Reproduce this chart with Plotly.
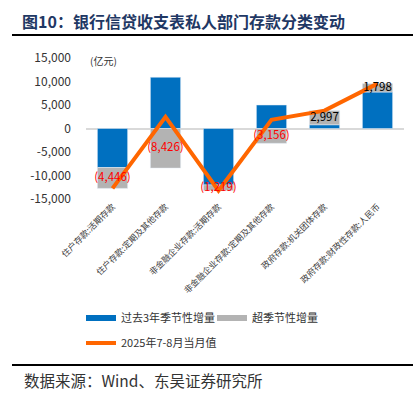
import plotly.graph_objects as go

categories = ["住户存款:活期存款", "住户存款:定期及其他存款", "非金融企业存款:活期存款",
              "非金融企业存款:定期及其他存款", "政府存款:机关团体存款", "政府存款:财政性存款:人民币"]
seasonal = [-8300, 10900, -12000, 5000, 800, 7750]
excess = [-4446, -8426, -1219, -3156, 2997, 1798]
actual = [-12750, 2480, -13220, 1840, 3800, 9550]
yticks = [15000, 10000, 5000, 0, -5000, -10000, -15000]

W, H = 420, 399
L, R, T, B = 86, 404, 58, 199
def px(x): return (x - L) / (R - L)
def py(y): return (B - y) / (B - T)

FONT = "Noto Sans CJK SC, sans-serif"
BLUE = "#0070C0"
GRAY = "#B3B3B3"
ORANGE = "#FF6600"

def fmt(v):
    return f"({abs(v):,})" if v < 0 else f"{v:,}"

# label positions: centre of the grey segment in the relative stack
label_y = []
for s, e in zip(seasonal, excess):
    base = s if (s >= 0) == (e >= 0) else 0
    label_y.append(base + e / 2)

fig = go.Figure()
fig.add_bar(x=categories, y=seasonal, marker_color=BLUE, name="过去3年季节性增量",
            showlegend=False)
fig.add_bar(x=categories, y=excess, marker_color=GRAY, name="超季节性增量",
            showlegend=False)
fig.add_scatter(x=categories, y=actual, mode="lines", line=dict(color=ORANGE, width=4),
                name="2025年7-8月当月值", legend="legend2")
fig.add_scatter(x=categories, y=label_y, mode="text", text=[fmt(v) for v in excess],
                textposition="middle center", showlegend=False, hoverinfo="skip",
                textfont=dict(size=11.5, family=FONT, shadow="none",
                              color=["#FF0000" if v < 0 else "#000000" for v in excess]))
# legend proxies with wide band symbols
fig.add_scatter(x=[None], y=[None], mode="lines", line=dict(color=BLUE, width=6),
                name="过去3年季节性增量", legend="legend")
fig.add_scatter(x=[None], y=[None], mode="lines", line=dict(color=GRAY, width=6),
                name="超季节性增量", legend="legend")

fig.update_layout(
    width=W, height=H,
    margin=dict(l=L, r=W - R, t=T, b=H - B),
    paper_bgcolor="white", plot_bgcolor="white",
    barmode="relative", bargap=0.43,
    font=dict(family=FONT, color="#333333"),
    title=dict(text="<b>图10：银行信贷收支表私人部门存款分类变动</b>",
               x=22 / W, xref="container", xanchor="left",
               y=1 - 22 / H, yref="container", yanchor="middle",
               font=dict(size=16, color="#1F3864", family=FONT)),
    legend=dict(orientation="h", x=px(81), xanchor="left", y=py(303.5), yanchor="top",
                font=dict(size=11, family=FONT, color="#333333"),
                entrywidth=86, entrywidthmode="pixels", bgcolor="rgba(0,0,0,0)"),
    legend2=dict(orientation="h", x=px(81), xanchor="left", y=py(328.5), yanchor="top",
                 font=dict(size=11, family=FONT, color="#333333"), bgcolor="rgba(0,0,0,0)"),
    showlegend=True,
)
fig.update_yaxes(range=[-15000, 15000], tickvals=yticks, ticktext=[f"{v:,}" for v in yticks],
                 showgrid=False, zeroline=True, zerolinecolor="#D9D9D9", zerolinewidth=1.5,
                 showline=False, ticks="", ticklabelstandoff=14,
                 tickfont=dict(size=12, family=FONT, color="#333333"))
fig.update_xaxes(showgrid=False, showline=False, ticks="", tickangle=-45,
                 tickfont=dict(size=8.6, family=FONT, color="#404040"))

fig.add_annotation(text="(亿元)", xref="paper", yref="paper", x=px(88), y=py(60),
                   xanchor="left", yanchor="middle", showarrow=False,
                   font=dict(size=10, family=FONT, color="#333333"))
fig.add_annotation(text="数据来源：Wind、东吴证券研究所", xref="paper", yref="paper",
                   x=px(22), y=py(380), xanchor="left", yanchor="middle", showarrow=False,
                   font=dict(size=15.5, family=FONT, color="#333333"))
fig.add_shape(type="line", xref="paper", yref="paper", x0=px(12), x1=px(413), y0=py(35), y1=py(35),
              line=dict(color="#000000", width=2))
fig.add_shape(type="line", xref="paper", yref="paper", x0=px(12), x1=px(413), y0=py(365), y1=py(365),
              line=dict(color="#000000", width=2))

fig.write_html("out.html", post_script="document.body.style.margin='0';",
               config={"displayModeBar": False})
